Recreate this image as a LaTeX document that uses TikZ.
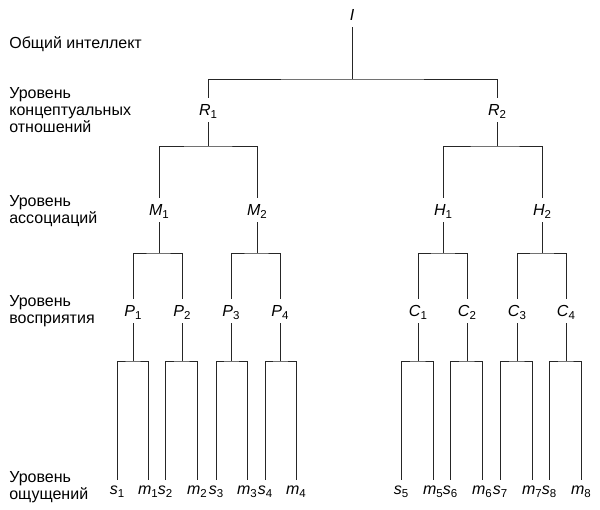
\documentclass[tikz,border=0pt]{standalone}
\usepackage{fontspec}
\setmainfont{Liberation Sans}

\newcommand{\lvl}[2]{\textit{#1}\raisebox{-0.35ex}{\fontsize{11.5}{13}\selectfont #2}}

\begin{document}
\begin{tikzpicture}[x=1pt, y=-1pt, line width=0.7pt, draw=black!85,
    every node/.style={font=\fontsize{16}{17}\selectfont},
    tree/.style={inner xsep=1pt, inner ysep=6pt, text height=11.4pt, text depth=0pt},
    leaf/.style={inner xsep=1pt, inner ysep=5.5pt, text height=8.3pt, text depth=0pt},
    level/.style={anchor=west, align=left, inner sep=0pt}]
    \useasboundingbox (0,0) rectangle (600,510);

    % levels on the left
    \node[level] (l1) at (9,44) {Общий интеллект};
    \node[level] (l2) at (9,110) {Уровень\\концептуальных\\отношений};
    \node[level] (l3) at (9,211) {Уровень\\ассоциаций};
    \node[level] (l4) at (9,311) {Уровень\\восприятия};
    \node[level] (l5) at (9,487) {Уровень\\ощущений};

    % tree nodes
    \node[tree] (I) at (352,15) {\textit{I}};
    \node[tree] (R1) at (208,110) {\lvl{R}{1}};
    \node[tree] (R2) at (497,110) {\lvl{R}{2}};
    \node[tree] (M1) at (159,210) {\lvl{M}{1}};
    \node[tree] (M2) at (257,210) {\lvl{M}{2}};
    \node[tree] (H1) at (443,210) {\lvl{H}{1}};
    \node[tree] (H2) at (542,210) {\lvl{H}{2}};
    \node[tree] (P1) at (133,311) {\lvl{P}{1}};
    \node[tree] (P2) at (182,311) {\lvl{P}{2}};
    \node[tree] (P3) at (231,311) {\lvl{P}{3}};
    \node[tree] (P4) at (280,311) {\lvl{P}{4}};
    \node[tree] (C1) at (418,311) {\lvl{C}{1}};
    \node[tree] (C2) at (467,311) {\lvl{C}{2}};
    \node[tree] (C3) at (517,311) {\lvl{C}{3}};
    \node[tree] (C4) at (566,311) {\lvl{C}{4}};

    % leaves
    \node[leaf] (s1) at (117,490) {\lvl{s}{1}};
    \node[leaf] (m1) at (148,490) {\lvl{m}{1}};
    \node[leaf] (s2) at (165,490) {\lvl{s}{2}};
    \node[leaf] (m2) at (197,490) {\lvl{m}{2}};
    \node[leaf] (s3) at (216,490) {\lvl{s}{3}};
    \node[leaf] (m3) at (247,490) {\lvl{m}{3}};
    \node[leaf] (s4) at (265,490) {\lvl{s}{4}};
    \node[leaf] (m4) at (296,490) {\lvl{m}{4}};
    \node[leaf] (s5) at (401,490) {\lvl{s}{5}};
    \node[leaf] (m5) at (433,490) {\lvl{m}{5}};
    \node[leaf] (s6) at (450,490) {\lvl{s}{6}};
    \node[leaf] (m6) at (482,490) {\lvl{m}{6}};
    \node[leaf] (s7) at (500,490) {\lvl{s}{7}};
    \node[leaf] (m7) at (532,490) {\lvl{m}{7}};
    \node[leaf] (s8) at (549,490) {\lvl{s}{8}};
    \node[leaf] (m8) at (581,490) {\lvl{m}{8}};

    % junctions
    \coordinate (jI) at (352,79);
    \coordinate (jR1) at (208,146);
    \coordinate (jR2) at (497,146);
    \coordinate (jM1) at (159,253);
    \coordinate (jM2) at (257,253);
    \coordinate (jH1) at (443,253);
    \coordinate (jH2) at (542,253);
    \coordinate (jP1) at (133,361);
    \coordinate (jP2) at (182,361);
    \coordinate (jP3) at (231,361);
    \coordinate (jP4) at (280,361);
    \coordinate (jC1) at (418,361);
    \coordinate (jC2) at (467,361);
    \coordinate (jC3) at (517,361);
    \coordinate (jC4) at (566,361);

    % connectors
    \draw (I) -- (jI);   \draw (R1) |- (jI) -| (R2);
    \draw (R1) -- (jR1); \draw (M1) |- (jR1) -| (M2);
    \draw (R2) -- (jR2); \draw (H1) |- (jR2) -| (H2);
    \draw (M1) -- (jM1); \draw (P1) |- (jM1) -| (P2);
    \draw (M2) -- (jM2); \draw (P3) |- (jM2) -| (P4);
    \draw (H1) -- (jH1); \draw (C1) |- (jH1) -| (C2);
    \draw (H2) -- (jH2); \draw (C3) |- (jH2) -| (C4);
    \draw (P1) -- (jP1); \draw (s1) |- (jP1) -| (m1);
    \draw (P2) -- (jP2); \draw (s2) |- (jP2) -| (m2);
    \draw (P3) -- (jP3); \draw (s3) |- (jP3) -| (m3);
    \draw (P4) -- (jP4); \draw (s4) |- (jP4) -| (m4);
    \draw (C1) -- (jC1); \draw (s5) |- (jC1) -| (m5);
    \draw (C2) -- (jC2); \draw (s6) |- (jC2) -| (m6);
    \draw (C3) -- (jC3); \draw (s7) |- (jC3) -| (m7);
    \draw (C4) -- (jC4); \draw (s8) |- (jC4) -| (m8);
\end{tikzpicture}
\end{document}
